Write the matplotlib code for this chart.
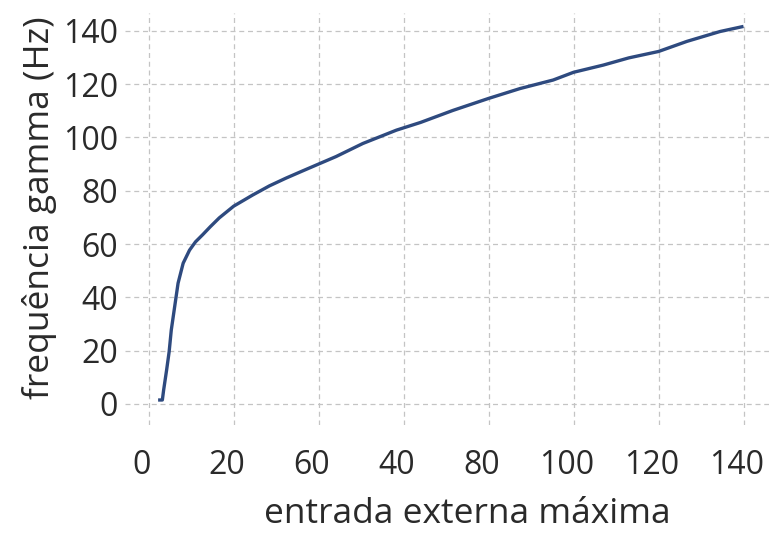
import matplotlib
matplotlib.use("Agg")
import matplotlib.pyplot as plt
from matplotlib.transforms import ScaledTranslation

# data
x_input = [2.2, 3.2, 3.5, 4.2, 4.8, 5.3, 6.1, 6.9, 8.1, 9.6, 11.0, 12.7, 14.5, 16.6,
           20.0, 24.5, 28.4, 32.3, 36.2, 40.0, 44.1, 50.4, 58.3, 64.0, 71.6, 80.0,
           87.4, 95.2, 100.0, 107.0, 113.0, 120.0, 126.7, 134.5, 140.0]
y_freq = [1.5, 1.5, 5.2, 12.7, 19.6, 27.7, 36.5, 45.3, 52.8, 57.7, 60.8, 63.5, 66.5, 69.8,
          74.2, 78.4, 81.8, 84.7, 87.4, 90.0, 92.8, 97.7, 102.7, 105.6, 110.1, 114.6,
          118.3, 121.5, 124.4, 127.1, 129.8, 132.2, 136.0, 139.7, 141.6]
x_ticks = [0, 20, 40, 60, 80, 100, 120, 140]
x_tick_labels = ["0", "20", "60", "40", "80", "100", "120", "140"]
y_ticks = [0, 20, 40, 60, 80, 100, 120, 140]
y_tick_labels = ["0", "20", "40", "60", "80", "100", "120", "140"]

plt.rcParams["font.family"] = ["Open Sans", "DejaVu Sans"]

fig = plt.figure(figsize=(7.69, 5.34), dpi=100)
ax = fig.add_axes([0.1625, 0.204, 0.8375, 0.772])

ax.plot(x_input, y_freq, color="#2e4a7f", lw=2.4, solid_capstyle="butt",
        solid_joinstyle="round")

ax.set_xlim(-5.6, 146)
ax.set_ylim(-7.9, 146.7)
ax.set_xticks(x_ticks)
ax.set_xticklabels(x_tick_labels)
ax.set_yticks(y_ticks)
ax.set_yticklabels(y_tick_labels)

for s in ax.spines.values():
    s.set_visible(False)
ax.tick_params(axis="both", length=0, labelsize=23, colors="#2a2a2a")
ax.tick_params(axis="x", pad=17)
ax.tick_params(axis="y", pad=5)
ax.grid(True, color="#c4c4c4", linestyle=(0, (4, 3)), lw=0.9)
ax.set_axisbelow(True)

offset = ScaledTranslation(-7 / 100, 0, fig.dpi_scale_trans)
for lbl in ax.get_xticklabels():
    lbl.set_transform(lbl.get_transform() + offset)

ax.set_xlabel("entrada externa máxima", fontsize=25.5, color="#2a2a2a", labelpad=11)
ax.set_ylabel("frequência gamma (Hz)", fontsize=25.5, color="#2a2a2a", labelpad=4)
ax.xaxis.label.set_x(0.531)
ax.yaxis.label.set_y(0.527)

fig.savefig("out.png", dpi=100)
